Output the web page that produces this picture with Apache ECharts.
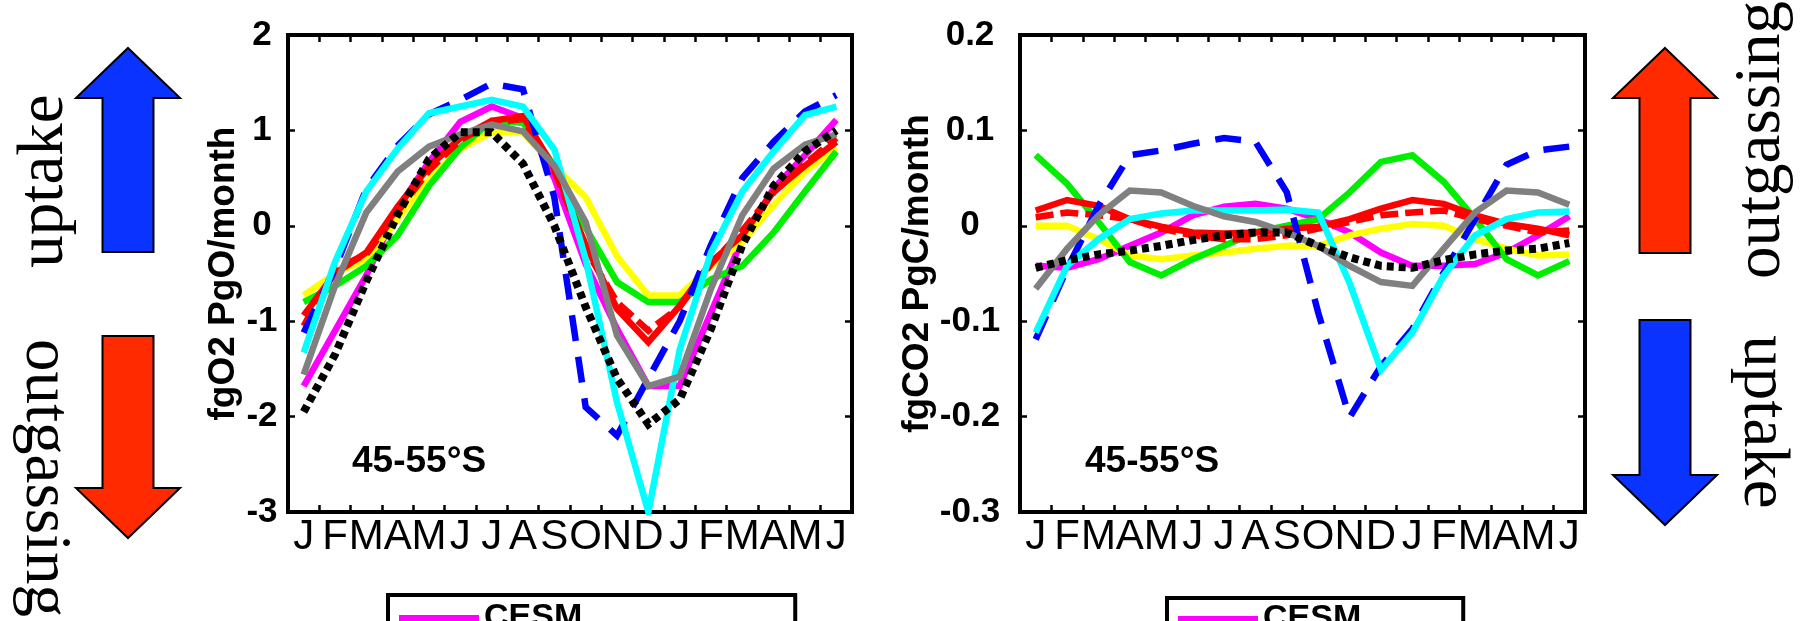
<!DOCTYPE html>
<html><head><meta charset="utf-8">
<script src="https://cdn.jsdelivr.net/npm/echarts@6/dist/echarts.min.js"></script>
<style>html,body{margin:0;padding:0;background:#fff;overflow:hidden}#c{width:1802px;height:621px}</style>
</head><body><div id="c"></div>
<script>
// ---- data ----
const months = ['J','F','M','A','M','J','J','A','S','O','N','D','J','F','M','A','M','J'];
const o2Ticks = [-3, -2, -1, 0, 1, 2];
const co2Ticks = [-0.3, -0.2, -0.1, 0, 0.1, 0.2];
const regionLabel = '45-55°S';

// fgO2 (PgO/month), 45-55°S
const o2_cesm      = [-1.68, -1.10, -0.52, 0.18, 0.67, 1.09, 1.25, 1.13, 0.50, -0.40, -1.08, -1.68, -1.68, -0.91, -0.14, 0.39, 0.74, 1.11];
const o2_yellow    = [-0.73, -0.50, -0.35, 0.07, 0.49, 0.81, 0.98, 0.98, 0.62, 0.30, -0.32, -0.73, -0.73, -0.42, -0.17, 0.22, 0.57, 0.82];
const o2_green     = [-0.80, -0.63, -0.42, -0.10, 0.42, 0.82, 1.10, 1.08, 0.63, -0.02, -0.59, -0.80, -0.80, -0.56, -0.42, -0.07, 0.36, 0.78];
const o2_red       = [-0.94, -0.50, -0.28, 0.20, 0.62, 0.92, 1.10, 1.15, 0.60, -0.20, -0.87, -1.22, -0.84, -0.38, -0.10, 0.36, 0.63, 0.88];
const o2_redDash   = [-1.05, -0.45, -0.30, 0.15, 0.58, 0.90, 1.08, 1.12, 0.58, -0.25, -0.80, -1.10, -0.85, -0.40, -0.05, 0.35, 0.65, 0.92];
const o2_blueDash  = [-1.12, -0.45, 0.39, 0.84, 1.17, 1.32, 1.49, 1.43, 0.30, -1.90, -2.20, -1.60, -1.00, -0.20, 0.50, 0.88, 1.20, 1.37];
const o2_cyan      = [-1.33, -0.38, 0.36, 0.81, 1.18, 1.25, 1.32, 1.25, 0.80, -0.35, -1.85, -3.00, -1.30, -0.28, 0.36, 0.78, 1.16, 1.25];
const o2_gray      = [-1.56, -0.63, 0.14, 0.57, 0.83, 0.96, 1.06, 0.99, 0.63, 0.04, -1.15, -1.68, -1.58, -0.66, 0.11, 0.60, 0.85, 0.96];
const o2_black     = [-1.95, -1.35, -0.58, 0.12, 0.70, 0.98, 0.98, 0.65, 0.00, -0.85, -1.60, -2.08, -1.82, -1.08, -0.20, 0.42, 0.78, 1.00];

// fgCO2 (PgC/month), 45-55°S
const co2_cesm     = [-0.042, -0.044, -0.035, -0.021, -0.007, 0.011, 0.020, 0.023, 0.018, 0.007, -0.007, -0.028, -0.042, -0.042, -0.040, -0.028, -0.010, 0.010];
const co2_yellow   = [0.000, 0.000, -0.014, -0.031, -0.035, -0.031, -0.028, -0.024, -0.021, -0.021, -0.010, -0.003, 0.002, 0.000, -0.014, -0.024, -0.031, -0.030];
const co2_green    = [0.074, 0.044, 0.004, -0.038, -0.052, -0.035, -0.021, -0.007, 0.000, 0.007, 0.035, 0.067, 0.074, 0.046, 0.007, -0.035, -0.052, -0.037];
const co2_red      = [0.016, 0.027, 0.021, 0.007, -0.001, -0.007, -0.008, -0.007, -0.003, -0.001, 0.007, 0.018, 0.027, 0.023, 0.011, 0.002, -0.003, -0.010];
const co2_redDash  = [0.009, 0.014, 0.011, 0.007, -0.003, -0.010, -0.014, -0.014, -0.010, -0.003, 0.004, 0.011, 0.014, 0.016, 0.007, 0.000, -0.007, -0.005];
const co2_blueDash = [-0.119, -0.045, 0.021, 0.074, 0.079, 0.086, 0.092, 0.088, 0.035, -0.091, -0.201, -0.147, -0.108, -0.049, 0.007, 0.064, 0.079, 0.083];
const co2_cyan     = [-0.112, -0.042, -0.014, 0.007, 0.013, 0.016, 0.016, 0.016, 0.017, 0.014, -0.060, -0.151, -0.112, -0.052, -0.010, 0.007, 0.014, 0.015];
const co2_gray     = [-0.066, -0.024, 0.011, 0.037, 0.035, 0.021, 0.010, 0.004, -0.007, -0.021, -0.042, -0.059, -0.063, -0.024, 0.014, 0.037, 0.035, 0.022];
const co2_black    = [-0.044, -0.036, -0.030, -0.026, -0.021, -0.015, -0.010, -0.007, -0.007, -0.021, -0.033, -0.042, -0.044, -0.036, -0.030, -0.026, -0.024, -0.018];

// ---- chart ----
const SANS = '"Liberation Sans", Arial, Helvetica, sans-serif';
const SERIF = '"Liberation Serif", "Times New Roman", serif';

const styles = {
  cesm:     {name: 'CESM',         color: '#ff00ff', type: 'solid', width: 6.5},
  yellow:   {name: 'yellow',       color: '#ffff00', type: 'solid', width: 6.5},
  green:    {name: 'green',        color: '#00ee00', type: 'solid', width: 6.5},
  red:      {name: 'red',          color: '#ff0000', type: 'solid', width: 6.5},
  redDash:  {name: 'red dashed',   color: '#ff0000', type: [18, 7], width: 6.5},
  blueDash: {name: 'blue dashed',  color: '#0000ff', type: [26, 16], width: 6.5},
  cyan:     {name: 'cyan',         color: '#00ffff', type: 'solid', width: 6.5},
  gray:     {name: 'gray',         color: '#808080', type: 'solid', width: 6.5},
  black:    {name: 'black dotted', color: '#000000', type: [7, 5], width: 8}
};
const leftSets  = [['cesm', o2_cesm], ['yellow', o2_yellow], ['green', o2_green], ['red', o2_red], ['redDash', o2_redDash], ['blueDash', o2_blueDash], ['cyan', o2_cyan], ['gray', o2_gray], ['black', o2_black]];
const rightSets = [['cesm', co2_cesm], ['yellow', co2_yellow], ['green', co2_green], ['red', co2_red], ['redDash', co2_redDash], ['blueDash', co2_blueDash], ['cyan', co2_cyan], ['gray', co2_gray], ['black', co2_black]];

function mk(set, xi, yi) {
  const s = styles[set[0]];
  return {
    type: 'line', name: s.name, data: set[1], xAxisIndex: xi, yAxisIndex: yi,
    symbol: 'none', showSymbol: false, silent: true, clip: true,
    lineStyle: {color: s.color, width: s.width, type: s.type, cap: 'butt', join: 'miter'},
    itemStyle: {color: s.color}
  };
}

function xAx(grid, pos) {
  return {
    gridIndex: grid, type: 'category', data: months, position: pos, boundaryGap: true,
    axisLine: {show: true, onZero: false, lineStyle: {color: '#000', width: 4}},
    axisTick: {show: true, inside: true, length: 7, interval: 0, lineStyle: {color: '#000', width: 2.5}},
    axisLabel: pos === 'bottom'
      ? {show: true, interval: 0, color: '#000', fontFamily: SANS, fontSize: 42, margin: 4}
      : {show: false},
    splitLine: {show: false}
  };
}
function yAx(grid, pos, ticks, name, margin, gap) {
  return {
    gridIndex: grid, type: 'value', position: pos,
    min: ticks[0], max: ticks[ticks.length - 1], interval: +(ticks[1] - ticks[0]).toFixed(6),
    axisLine: {show: true, onZero: false, lineStyle: {color: '#000', width: 4}},
    axisTick: {show: true, inside: true, length: 7, lineStyle: {color: '#000', width: 2.5}},
    axisLabel: pos === 'left'
      ? {show: true, color: '#000', fontFamily: SANS, fontWeight: 'bold', fontSize: 35, align: 'center', margin: margin,
         formatter: v => String(+v.toFixed(3))}
      : {show: false},
    splitLine: {show: false},
    name: pos === 'left' ? name : '',
    nameLocation: 'middle', nameGap: gap,
    nameTextStyle: {color: '#000', fontFamily: SANS, fontWeight: 'bold', fontSize: 37}
  };
}

function arrow(cx, top, bottom, up, color) {
  const hw = 52, sw = 25.5, hh = 50;
  let pts;
  if (up) {
    pts = [[cx, top], [cx + hw, top + hh], [cx + sw, top + hh], [cx + sw, bottom], [cx - sw, bottom], [cx - sw, top + hh], [cx - hw, top + hh]];
  } else {
    pts = [[cx - sw, top], [cx + sw, top], [cx + sw, bottom - hh], [cx + hw, bottom - hh], [cx, bottom], [cx - hw, bottom - hh], [cx - sw, bottom - hh]];
  }
  return {type: 'polygon', shape: {points: pts}, style: {fill: color, stroke: '#000', lineWidth: 2}, silent: true};
}
function vtext(str, x, y, ccw) {
  return {type: 'text', x: x, y: y, rotation: ccw ? Math.PI / 2 : -Math.PI / 2, silent: true,
    style: {text: str, font: '65px ' + SERIF, fill: '#000', align: 'center', verticalAlign: 'middle'}};
}
function region(x, y) {
  return {type: 'text', x: x, y: y, silent: true,
    style: {text: regionLabel, font: 'bold 37px ' + SANS, fill: '#000', align: 'left', verticalAlign: 'middle'}};
}

const BLUE = '#0a33ff', RED = '#ff2a00';
const legendBase = {
  orient: 'vertical', icon: 'rect', itemWidth: 80, itemHeight: 6,
  borderColor: '#000', borderWidth: 4, selectedMode: false,
  textStyle: {color: '#000', fontFamily: SANS, fontWeight: 'bold', fontSize: 34, lineHeight: 30}
};
const option = {
  animation: false,
  backgroundColor: '#fff',
  grid: [
    {left: 288, top: 35, width: 564, height: 477, show: true, borderColor: '#000', borderWidth: 4, backgroundColor: 'transparent'},
    {left: 1020, top: 35, width: 565, height: 477, show: true, borderColor: '#000', borderWidth: 4, backgroundColor: 'transparent'}
  ],
  xAxis: [xAx(0, 'bottom'), xAx(0, 'top'), xAx(1, 'bottom'), xAx(1, 'top')],
  yAxis: [
    yAx(0, 'left', o2Ticks, 'fgO2 PgO/month', 26, 40),
    yAx(0, 'right', o2Ticks, '', 0, 0),
    yAx(1, 'left', co2Ticks, 'fgCO2 PgC/month', 50, 82),
    yAx(1, 'right', co2Ticks, '', 0, 0)
  ],
  legend: [
    Object.assign({}, legendBase, {left: 388, top: 595, padding: [6, 213, 30, 11],
      data: [{name: 'CESM', itemStyle: {color: '#ff00ff'}}]}),
    Object.assign({}, legendBase, {left: 1167, top: 598, padding: [4, 102, 30, 11],
      data: [{name: 'CESM', itemStyle: {color: '#ff00ff'}}]})
  ],
  graphic: [
    arrow(128, 48, 252, true, BLUE),
    arrow(128, 336, 538, false, RED),
    arrow(1665, 48, 253, true, RED),
    arrow(1665, 320, 525, false, BLUE),
    vtext('uptake', 45, 181, true),
    vtext('outgassing', 44, 478, false),
    vtext('outgassing', 1762, 140, true),
    vtext('uptake', 1762, 422, false),
    region(352, 462),
    region(1085, 462)
  ],
  series: leftSets.map(s => mk(s, 0, 0)).concat(rightSets.map(s => mk(s, 2, 2)))
};
const chart = echarts.init(document.getElementById('c'), null, {renderer: 'canvas'});
chart.setOption(option);
</script>
</body></html>
